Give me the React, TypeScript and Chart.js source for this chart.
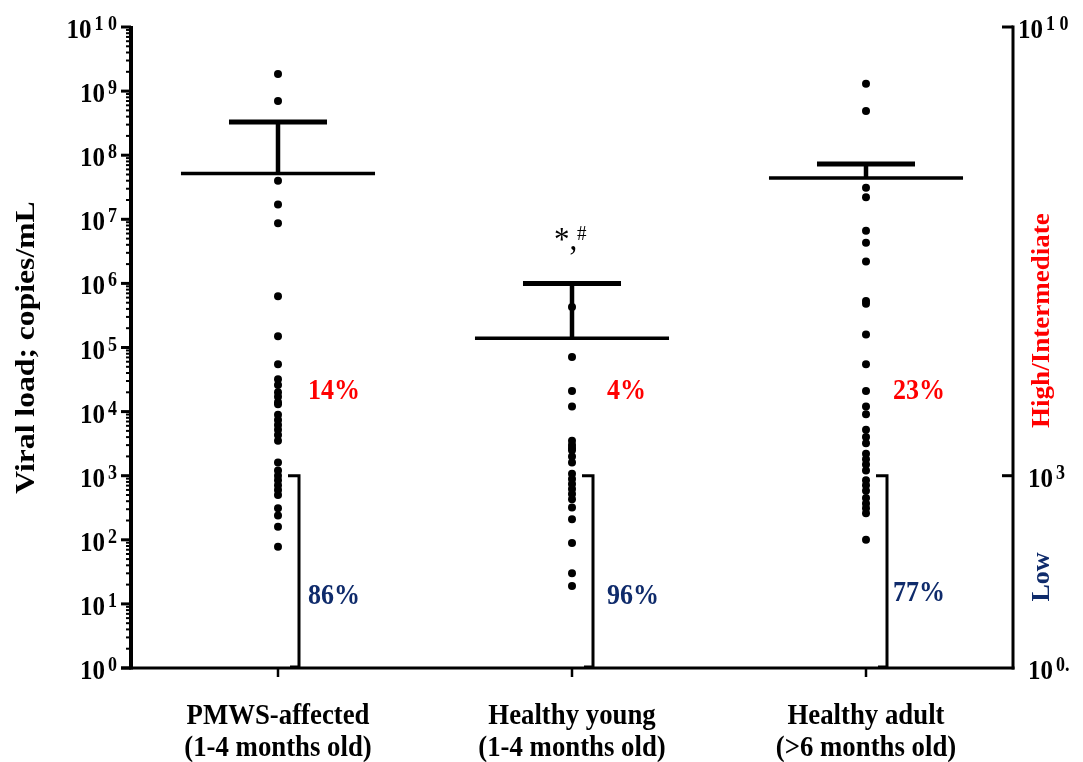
import React, { useEffect, useRef } from "react";
import { Chart, registerables } from "chart.js";

Chart.register(...registerables);

// ---------- data ----------
const groupLine1 = ["PMWS-affected", "Healthy young", "Healthy adult"];
const groupLine2 = ["(1-4 months old)", "(1-4 months old)", "(>6 months old)"];

const pmwsValues = [
  1.85e9, 7.0e8, 4.0e7, 1.7e7, 8.7e6, 6.3e5, 1.5e5, 5.5e4, 3.2e4, 2.6e4, 2.0e4,
  1.7e4, 1.4e4, 1.3e4, 8.9e3, 7.4e3, 6.2e3, 5.2e3, 4.3e3, 3.5e3, 1.6e3, 1.2e3,
  1.0e3, 850, 710, 600, 500, 310, 240, 160, 78,
];
const youngValues = [
  4.3e5, 7.1e4, 2.1e4, 1.2e4, 3.5e3, 3.0e3, 2.7e3, 2.5e3, 2.0e3, 1.6e3, 1.07e3,
  890, 740, 620, 520, 430, 320, 210, 89, 30, 19,
];
const adultValues = [
  1.3e9, 4.9e8, 3.1e7, 2.2e7, 6.6e6, 4.3e6, 2.2e6, 5.3e5, 4.8e5, 1.6e5, 5.5e4,
  2.1e4, 1.2e4, 9.1e3, 5.2e3, 4.0e3, 3.2e3, 2.2e3, 1.8e3, 1.5e3, 1.2e3, 850,
  710, 580, 450, 370, 310, 260, 100,
];
const groupMeans = [5.2e7, 1.4e5, 4.4e7];
const groupUpperSem = [3.3e8, 1.0e6, 7.3e7];
const highPercents = ["14%", "4%", "23%"];
const lowPercents = ["86%", "96%", "77%"];
const lowThreshold = 1e3;
const leftTickExponents = [0, 1, 2, 3, 4, 5, 6, 7, 8, 9, 10];
const rightTickExponents = [0, 3, 10];

// ---------- style ----------
const SERIF = "'Liberation Serif', 'Times New Roman', serif";
const RED = "#ff0000";
const NAVY = "#0f2b6b";
const STRETCH = 1.12;

function textAt(
  ctx: CanvasRenderingContext2D,
  text: string,
  x: number,
  y: number,
  sx: number,
  sy: number
) {
  ctx.save();
  ctx.translate(x, y);
  ctx.scale(sx, sy);
  ctx.fillText(text, 0, 0);
  ctx.restore();
}

function drawPower(
  ctx: CanvasRenderingContext2D,
  xBase: number,
  yTick: number,
  exp: string,
  align: "right" | "left"
) {
  ctx.save();
  ctx.fillStyle = "#000";
  ctx.textBaseline = "alphabetic";
  ctx.textAlign = "left";
  ctx.font = `bold 25px ${SERIF}`;
  const baseW = ctx.measureText("10").width;
  ctx.font = `bold 18px ${SERIF}`;
  const supW = ctx.measureText(exp).width;
  const x0 = align === "left" ? xBase : xBase - baseW - 3 - supW;
  ctx.font = `bold 25px ${SERIF}`;
  textAt(ctx, "10", x0, yTick + 11, 1, STRETCH);
  ctx.font = `bold 18px ${SERIF}`;
  textAt(ctx, exp, x0 + baseW + 3, yTick + 3, 1, STRETCH);
  ctx.restore();
}

const decorPlugin = {
  id: "decor",
  afterDatasetsDraw(chart: any) {
    const ctx: CanvasRenderingContext2D = chart.ctx;
    const xs = chart.scales.x;
    const ys = chart.scales.y;
    const area = chart.chartArea;
    ctx.save();
    ctx.strokeStyle = "#000";
    ctx.lineCap = "butt";

    const line = (x1: number, y1: number, x2: number, y2: number, w: number) => {
      ctx.lineWidth = w;
      ctx.beginPath();
      ctx.moveTo(x1, y1);
      ctx.lineTo(x2, y2);
      ctx.stroke();
    };

    // mean + SEM
    groupMeans.forEach((m, i) => {
      const cx = xs.getPixelForValue(i);
      const ym = ys.getPixelForValue(m);
      const yu = ys.getPixelForValue(groupUpperSem[i]);
      line(cx, ym, cx, yu, 4.5);
      line(xs.getPixelForValue(i - 0.1667), yu, xs.getPixelForValue(i + 0.1667), yu, 5);
      line(xs.getPixelForValue(i - 0.33), ym, xs.getPixelForValue(i + 0.33), ym, 3.5);
    });

    // low brackets
    groupMeans.forEach((_, i) => {
      const bx = xs.getPixelForValue(i) + 21;
      const yt = ys.getPixelForValue(lowThreshold);
      const yb = ys.getPixelForValue(1);
      ctx.lineWidth = 3;
      ctx.beginPath();
      ctx.moveTo(bx - 11, yt);
      ctx.lineTo(bx, yt);
      ctx.lineTo(bx, yb - 1);
      ctx.lineTo(bx - 9, yb - 1);
      ctx.stroke();
    });

    // axes
    line(area.left, area.top - 1, area.left, area.bottom + 1.5, 4);
    line(area.left - 10, area.bottom, area.right + 1.5, area.bottom, 3);
    line(area.right, area.top - 1.5, area.right, area.bottom + 1.5, 3);

    leftTickExponents.forEach((e) => {
      const y = ys.getPixelForValue(Math.pow(10, e));
      line(area.left - 10, y, area.left, y, 3);
      if (e < 10) {
        for (let m = 2; m <= 9; m++) {
          const ym = ys.getPixelForValue(m * Math.pow(10, e));
          line(area.left - 5, ym, area.left, ym, 2);
        }
      }
    });
    rightTickExponents.forEach((e) => {
      if (e === 0) return;
      const y = ys.getPixelForValue(Math.pow(10, e));
      line(area.right - 11, y, area.right, y, 3);
    });
    groupMeans.forEach((_, i) => {
      const cx = xs.getPixelForValue(i);
      line(cx, area.bottom, cx, area.bottom + 9, 2.5);
    });

    // tick labels
    leftTickExponents.forEach((e) => {
      const y = ys.getPixelForValue(Math.pow(10, e));
      drawPower(ctx, area.left - 14, y, e === 10 ? "1 0" : String(e), "right");
    });
    rightTickExponents.forEach((e) => {
      const y = ys.getPixelForValue(Math.pow(10, e));
      const exp = e === 10 ? "1 0" : e === 0 ? "0." : String(e);
      drawPower(ctx, area.right + (e === 10 ? 5 : 15), y, exp, "left");
    });

    // category labels
    ctx.fillStyle = "#000";
    ctx.textAlign = "center";
    ctx.textBaseline = "middle";
    ctx.font = `bold 26px ${SERIF}`;
    groupLine1.forEach((t, i) => {
      const cx = xs.getPixelForValue(i);
      textAt(ctx, t, cx, area.bottom + 48, 1.03, STRETCH);
      textAt(ctx, groupLine2[i], cx, area.bottom + 80, 1.03, STRETCH);
    });

    // percents
    const pctOffsets = [30, 35, 27];
    ctx.textAlign = "left";
    ctx.font = `bold 26px ${SERIF}`;
    highPercents.forEach((t, i) => {
      const cx = xs.getPixelForValue(i) + pctOffsets[i];
      ctx.fillStyle = RED;
      textAt(ctx, t, cx, ys.getPixelForValue(Math.pow(10, 4.31)), 1, STRETCH);
      ctx.fillStyle = NAVY;
      textAt(ctx, lowPercents[i], cx, ys.getPixelForValue(Math.pow(10, i === 2 ? 1.17 : 1.12)), 1, STRETCH);
    });

    // significance mark
    const sx = xs.getPixelForValue(1);
    ctx.fillStyle = "#000";
    ctx.textBaseline = "alphabetic";
    ctx.font = `31px ${SERIF}`;
    textAt(ctx, "*,", sx - 18, ys.getPixelForValue(1e6) - 33, 1, STRETCH);
    ctx.font = `19px ${SERIF}`;
    textAt(ctx, "#", sx + 5, ys.getPixelForValue(1e6) - 43, 1, STRETCH);

    // axis titles
    ctx.textAlign = "center";
    ctx.textBaseline = "middle";
    ctx.save();
    ctx.translate(27, (area.top + area.bottom) / 2);
    ctx.rotate(-Math.PI / 2);
    ctx.scale(1.13, 1);
    ctx.font = `bold 28px ${SERIF}`;
    ctx.fillStyle = "#000";
    ctx.fillText("Viral load; copies/mL", 0, 0);
    ctx.restore();

    ctx.save();
    ctx.translate(area.right + 29, ys.getPixelForValue(Math.pow(10, 5.42)));
    ctx.rotate(-Math.PI / 2);
    ctx.scale(1.04, 1);
    ctx.font = `bold 26px ${SERIF}`;
    ctx.fillStyle = RED;
    ctx.fillText("High/Intermediate", 0, 0);
    ctx.restore();

    ctx.save();
    ctx.translate(area.right + 29, ys.getPixelForValue(Math.pow(10, 1.42)));
    ctx.rotate(-Math.PI / 2);
    ctx.font = `bold 26px ${SERIF}`;
    ctx.fillStyle = NAVY;
    ctx.fillText("Low", 0, 0);
    ctx.restore();

    ctx.restore();
  },
};

export default function App() {
  const canvasRef = useRef<HTMLCanvasElement | null>(null);

  useEffect(() => {
    const canvas = canvasRef.current;
    if (!canvas) return;
    const toPoints = (vals: number[], i: number) => vals.map((v) => ({ x: i, y: v }));
    const chart = new Chart(canvas, {
      type: "scatter",
      data: {
        datasets: [pmwsValues, youngValues, adultValues].map((vals, i) => ({
          label: groupLine1[i],
          data: toPoints(vals, i),
          backgroundColor: "#000",
          borderColor: "#000",
          borderWidth: 0,
          pointRadius: 4,
          pointHoverRadius: 4,
        })),
      },
      options: {
        responsive: false,
        animation: false,
        devicePixelRatio: 1,
        layout: { padding: { left: 131, right: 70, top: 27, bottom: 94 } },
        plugins: { legend: { display: false }, tooltip: { enabled: false } },
        events: [],
        scales: {
          x: { type: "linear", min: -0.5, max: 2.5, display: false },
          y: { type: "logarithmic", min: 1, max: 1e10, display: false },
        },
      },
      plugins: [decorPlugin],
    });
    return () => chart.destroy();
  }, []);

  return (
    <div style={{ position: "absolute", left: 0, top: 0, width: 1083, height: 762, background: "#fff" }}>
      <canvas ref={canvasRef} width={1083} height={762} style={{ width: 1083, height: 762, display: "block" }} />
    </div>
  );
}
